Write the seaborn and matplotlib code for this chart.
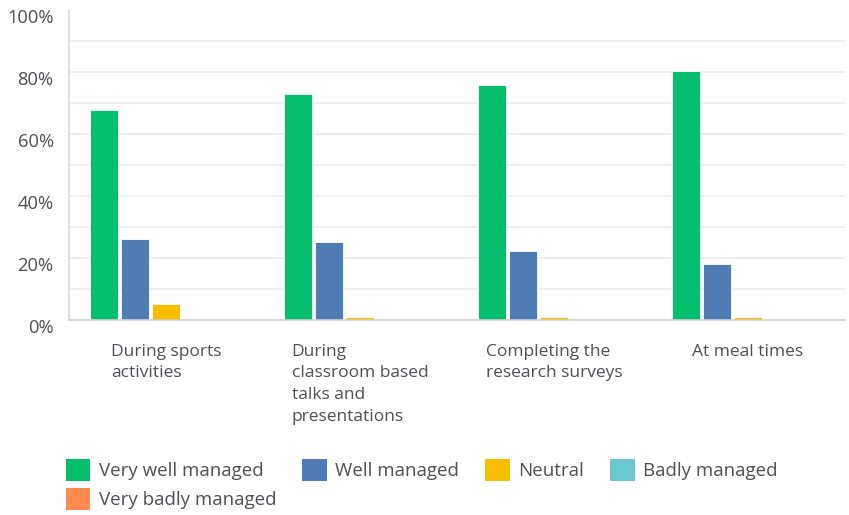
import matplotlib.pyplot as plt
import matplotlib.transforms as mtransforms
from matplotlib.patches import Patch
import numpy as np
import pandas as pd
import seaborn as sns

# Data (percent of respondents)
categories = [
    "During sports\nactivities",
    "During\nclassroom based\ntalks and\npresentations",
    "Completing the\nresearch surveys",
    "At meal times",
]
responses = [
    "Very well managed",
    "Well managed",
    "Neutral",
    "Badly managed",
    "Very badly managed",
]
very_well = [67.7, 72.8, 75.8, 80.3]
well = [26.1, 25.2, 22.2, 18.2]
neutral = [5.1, 1.1, 1.1, 1.1]
badly = [0, 0, 0, 0]
very_badly = [0, 0, 0, 0]

colors = ["#05BF6E", "#507CB6", "#F9BE00", "#6BC8CD", "#FF8B4F"]

df = pd.DataFrame(
    {
        "category": categories * 5,
        "response": np.repeat(responses, len(categories)),
        "value": very_well + well + neutral + badly + very_badly,
    }
)

sns.set_style("white")
plt.rcParams["font.family"] = ["Open Sans", "DejaVu Sans"]
text_color = "#4d5054"

fig = plt.figure(figsize=(8.49, 5.15), dpi=100)
ax = fig.add_axes([69 / 849, 1 - 320 / 515, 776 / 849, 310 / 515])

sns.barplot(
    data=df,
    x="category",
    y="value",
    hue="response",
    hue_order=responses,
    order=categories,
    palette=colors,
    saturation=1,
    width=0.8,
    gap=0.1,
    edgecolor="white",
    linewidth=0.6,
    legend=False,
    ax=ax,
)

ax.set_ylim(0, 100)
ax.set_xlim(-0.5, len(categories) - 0.5)
ax.set_yticks(np.arange(0, 101, 20))
ax.set_yticklabels([f"{v}%" for v in range(0, 101, 20)])
for y in np.arange(10, 100, 10):
    ax.axhline(y, color="#ececec", linewidth=1.2, zorder=0)

ax.set_xlabel("")
ax.set_ylabel("")
for s in ["top", "right"]:
    ax.spines[s].set_visible(False)
ax.spines["left"].set_color("#d9d9d9")
ax.spines["bottom"].set_color("#d0d0d0")
ax.spines["left"].set_linewidth(1.2)
ax.spines["bottom"].set_linewidth(1.2)
ax.tick_params(axis="both", length=0, colors=text_color, labelsize=12.5)
ax.tick_params(axis="y", labelsize=13.2, pad=11)

# y labels sit a little below their gridlines in the reference
offset = mtransforms.ScaledTranslation(0, -6 / 100, fig.dpi_scale_trans)
for lab in ax.get_yticklabels():
    lab.set_transform(lab.get_transform() + offset)

ax.set_xticks(range(len(categories)))
ax.set_xticklabels(categories, multialignment="left", va="top", linespacing=1.48)
ax.tick_params(axis="x", pad=17)

# legend, reordered so that matplotlib fills it row by row
handles = [Patch(facecolor=c, edgecolor="none") for c in colors]
order = [0, 4, 1, 2, 3]
leg = fig.legend(
    [handles[i] for i in order],
    [responses[i] for i in order],
    loc="upper left",
    bbox_to_anchor=(49 / 849, 1 - 442 / 515),
    ncol=4,
    frameon=False,
    fontsize=13.5,
    handlelength=1.3,
    handleheight=1.4,
    handletextpad=0.45,
    columnspacing=1.4,
    labelspacing=0.4,
)
for t in leg.get_texts():
    t.set_color(text_color)

fig.savefig("out.png", dpi=100)
